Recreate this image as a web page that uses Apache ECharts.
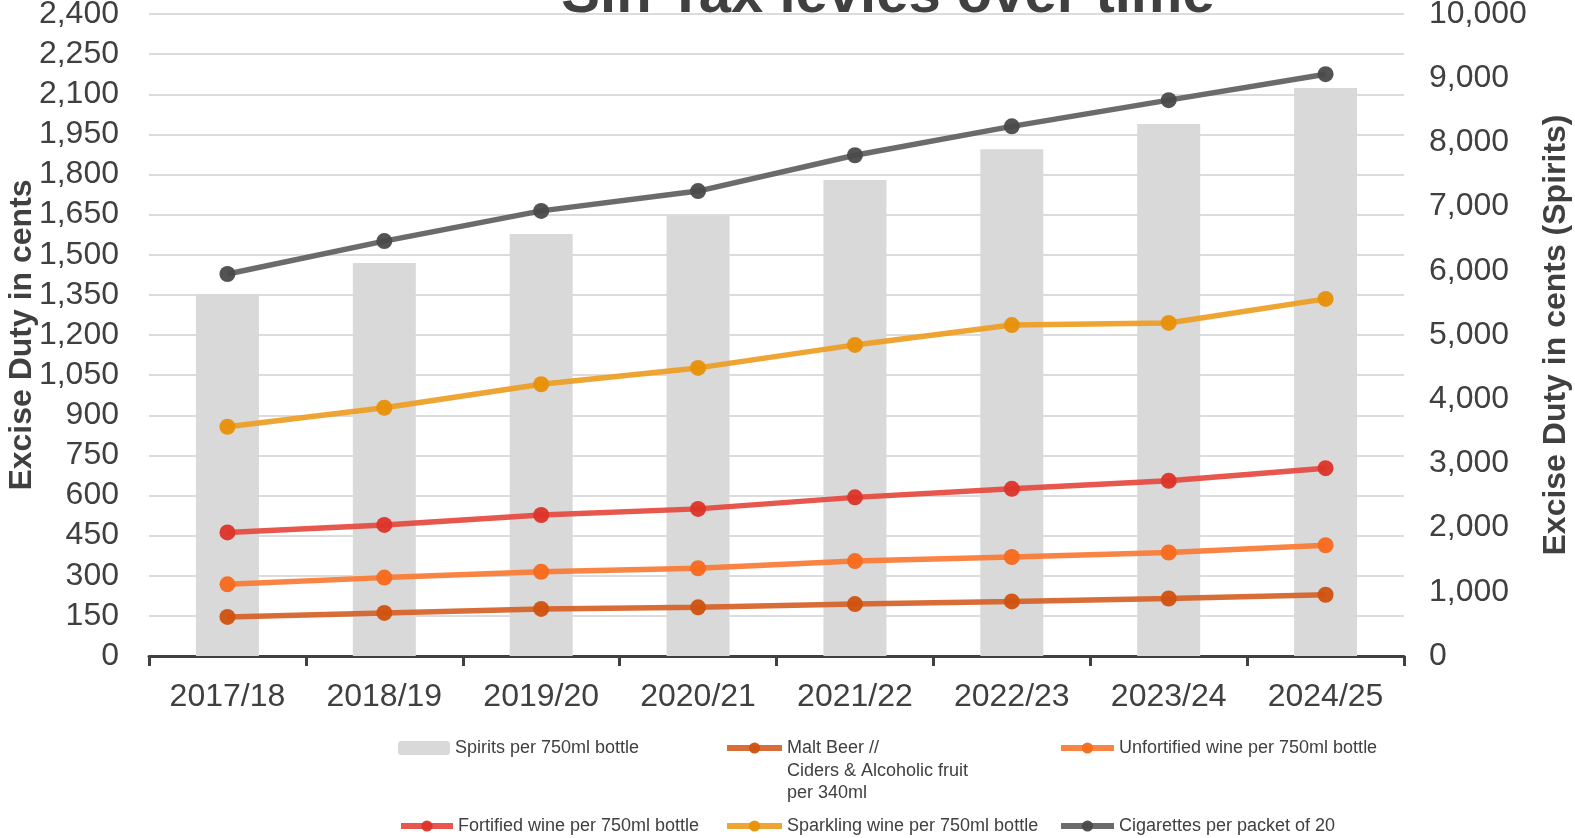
<!DOCTYPE html>
<html>
<head>
<meta charset="utf-8">
<script src="https://cdn.jsdelivr.net/npm/echarts@6/dist/echarts.min.js"></script>
<style>
html,body{margin:0;padding:0;background:#fff;}
#chart{width:1575px;height:838px;}
</style>
</head>
<body>
<div id="chart"></div>
<script>
const categories = ['2017/18','2018/19','2019/20','2020/21','2021/22','2022/23','2023/24','2024/25'];
const spirits = [5639, 6121, 6573, 6858, 7414, 7893, 8285, 8846];
const maltBeer = [146, 161, 176, 182, 194, 204, 215, 229];
const unfortifiedWine = [268, 293, 315, 328, 355, 370, 387, 414];
const fortifiedWine = [462, 490, 527, 550, 593, 625, 655, 702];
const sparklingWine = [857, 928, 1016, 1077, 1163, 1237, 1245, 1335];
const cigarettes = [1428, 1551, 1664, 1738, 1872, 1980, 2078, 2175];

const titleText = 'Sin Tax levies over time';
const leftAxisName = 'Excise Duty in cents';
const rightAxisName = 'Excise Duty in cents (Spirits)';
const names = {
  spirits: 'Spirits per 750ml bottle',
  malt: 'Malt Beer // Ciders & Alcoholic fruit per 340ml',
  unfort: 'Unfortified wine per 750ml bottle',
  fort: 'Fortified wine per 750ml bottle',
  spark: 'Sparkling wine per 750ml bottle',
  cig: 'Cigarettes per packet of 20'
};
const maltLines = ['Malt Beer //', 'Ciders & Alcoholic fruit', 'per 340ml'];

const txt = '#404040';
const FONT = 'Liberation Sans, Arial, sans-serif';

function lineSeries(name, data, lineColor, dotColor) {
  return {
    name: name, type: 'line', yAxisIndex: 0, data: data,
    symbol: 'circle', symbolSize: 16,
    lineStyle: { width: 5.5, color: lineColor, opacity: 0.92 },
    itemStyle: { color: dotColor, opacity: 0.95 },
    z: 3
  };
}

function legendAt(name, left, top, w, extra) {
  return Object.assign({
    data: [name], left: left, top: top, padding: 0,
    itemWidth: w, itemHeight: 14, selectedMode: false,
    lineStyle: { width: 6 },
    textStyle: { fontSize: 18, color: txt, fontFamily: FONT, lineHeight: 22 }
  }, extra || {});
}

const chart = echarts.init(document.getElementById('chart'));
chart.setOption({
  animation: false,
  backgroundColor: '#ffffff',
  textStyle: { fontFamily: FONT },
  graphic: [{
    type: 'text', x: 888, y: -4,
    style: { text: titleText, fontSize: 58, fontWeight: 'bold', fill: txt,
             fontFamily: FONT, align: 'center', verticalAlign: 'middle' }
  }, {
    type: 'text', x: 787, y: 771,
    style: { text: maltLines[1], fontSize: 18, fill: txt, fontFamily: FONT,
             align: 'left', verticalAlign: 'middle' }
  }, {
    type: 'text', x: 787, y: 793,
    style: { text: maltLines[2], fontSize: 18, fill: txt, fontFamily: FONT,
             align: 'left', verticalAlign: 'middle' }
  }],
  grid: { left: 149, right: 171, top: 14, bottom: 182, containLabel: false, outerBoundsMode: 'none' },
  legend: [
    legendAt(names.spirits, 398, 737, 52),
    legendAt(names.malt, 724, 737, 55, {
      formatter: function () { return maltLines[0]; }
    }),
    legendAt(names.unfort, 1058, 737, 53),
    legendAt(names.fort, 398, 815, 52),
    legendAt(names.spark, 724, 815, 55),
    legendAt(names.cig, 1058, 815, 53)
  ],
  xAxis: {
    type: 'category', data: categories, boundaryGap: true,
    axisLine: { lineStyle: { color: txt, width: 3 } },
    axisTick: { show: true, length: 10, lineStyle: { color: txt, width: 3 } },
    axisLabel: { fontSize: 32, color: txt, margin: 25, fontFamily: FONT }
  },
  yAxis: [{
    type: 'value', min: 0, max: 2400, interval: 150, position: 'left',
    name: leftAxisName, nameLocation: 'middle', nameGap: 111, nameMoveOverlap: false,
    nameTextStyle: { fontSize: 32, fontWeight: 'bold', color: txt, fontFamily: FONT },
    axisLine: { show: false }, axisTick: { show: false },
    axisLabel: { fontSize: 32, color: txt, margin: 30, fontFamily: FONT,
      formatter: function (v) { return v.toLocaleString('en-US'); } },
    splitLine: { show: true, lineStyle: { color: '#d0d0d0', width: 1.5 } }
  }, {
    type: 'value', min: 0, max: 10000, interval: 1000, position: 'right',
    name: rightAxisName, nameLocation: 'middle', nameGap: 136, nameMoveOverlap: false,
    nameTextStyle: { fontSize: 32, fontWeight: 'bold', color: txt, fontFamily: FONT },
    axisLine: { show: false }, axisTick: { show: false },
    axisLabel: { fontSize: 32, color: txt, margin: 25, fontFamily: FONT,
      formatter: function (v) { return v.toLocaleString('en-US'); } },
    splitLine: { show: false }
  }],
  series: [
    { name: names.spirits, type: 'bar', yAxisIndex: 1, data: spirits, barWidth: 63,
      itemStyle: { color: '#d9d9d9' }, z: 1 },
    lineSeries(names.malt, maltBeer, '#D66127', '#D0520F'),
    lineSeries(names.unfort, unfortifiedWine, '#FA7A33', '#F76A1C'),
    lineSeries(names.fort, fortifiedWine, '#E5493F', '#DC3428'),
    lineSeries(names.spark, sparklingWine, '#EE9D22', '#E8900A'),
    lineSeries(names.cig, cigarettes, '#5E5E5E', '#4A4A4A')
  ]
});
</script>
</body>
</html>
